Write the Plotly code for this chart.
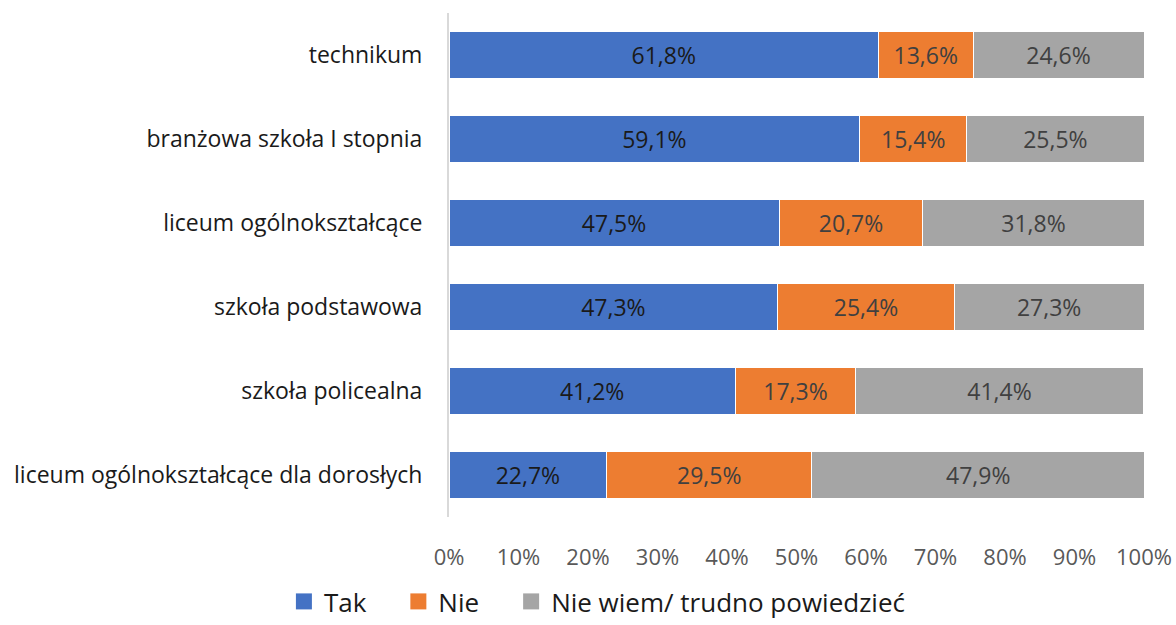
import plotly.graph_objects as go

categories = [
    "technikum",
    "branżowa szkoła I stopnia",
    "liceum ogólnokształcące",
    "szkoła podstawowa",
    "szkoła policealna",
    "liceum ogólnokształcące dla dorosłych",
]
tak = [61.8, 59.1, 47.5, 47.3, 41.2, 22.7]
nie = [13.6, 15.4, 20.7, 25.4, 17.3, 29.5]
nie_wiem = [24.6, 25.5, 31.8, 27.3, 41.4, 47.9]
series_names = ["Tak", "Nie", "Nie wiem/ trudno powiedzieć"]
tick_vals = [0, 10, 20, 30, 40, 50, 60, 70, 80, 90, 100]
tick_text = [f"{v}%" for v in tick_vals]

colors = ["#4472C4", "#ED7D31", "#A5A5A5"]
text_colors = ["#1a1a1a", "#404040", "#404040"]

fig = go.Figure()
for name, vals, col, tcol in zip(series_names, [tak, nie, nie_wiem], colors, text_colors):
    fig.add_trace(go.Bar(
        y=categories,
        x=vals,
        name=name,
        orientation="h",
        marker=dict(color=col, line=dict(color="white", width=1)),
        text=[f"{v:.1f}%".replace(".", ",") for v in vals],
        textposition="inside",
        insidetextanchor="middle",
        textfont=dict(color=tcol, size=23),
        width=0.55,
        showlegend=False,
    ))

# legend entries with bigger square swatches (nbsp padding widens the gaps)
pad = "\u00a0" * 4
for i, (name, col) in enumerate(zip(series_names, colors)):
    fig.add_trace(go.Scatter(
        x=[None], y=[None],
        mode="markers",
        name=name + (pad if i < len(series_names) - 1 else ""),
        marker=dict(symbol="square", size=18, color=col),
    ))

fig.update_layout(
    barmode="stack",
    width=1176,
    height=625,
    plot_bgcolor="white",
    paper_bgcolor="white",
    font=dict(family="Open Sans", size=22, color="#595959"),
    margin=dict(l=449, r=32, t=13, b=108),
    uniformtext=dict(minsize=20, mode="show"),
    legend=dict(
        orientation="h",
        xref="container", yref="container",
        x=0.508, xanchor="center",
        y=0.0, yanchor="bottom",
        font=dict(size=26, color="#1a1a1a"),
        traceorder="normal",
        itemwidth=30,
    ),
    showlegend=True,
)
fig.update_xaxes(
    range=[0, 100],
    tickvals=tick_vals,
    ticktext=tick_text,
    showgrid=False,
    zeroline=False,
    automargin=False,
    ticks="outside",
    ticklen=21,
    tickcolor="white",
    ticklabeloverflow="allow",
    tickfont=dict(size=22, color="#595959"),
)
fig.update_yaxes(
    autorange="reversed",
    automargin=False,
    showline=True,
    linecolor="#d9d9d9",
    linewidth=2,
    ticks="outside",
    ticklen=20,
    tickcolor="white",
    tickfont=dict(size=23, color="#1a1a1a"),
)

# drop the default 8px body margin so the figure fills the window exactly
fig.write_html(
    "out.html",
    config={"displayModeBar": False},
    post_script="document.body.style.margin='0';",
)
